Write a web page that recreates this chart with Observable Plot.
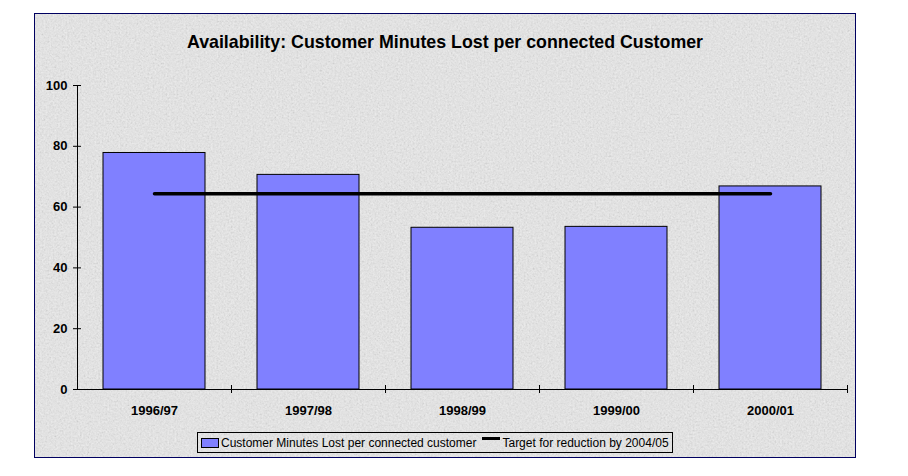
<!DOCTYPE html>
<html>
<head>
<meta charset="utf-8">
<script src="https://cdn.jsdelivr.net/npm/d3@7"></script>
<script src="https://cdn.jsdelivr.net/npm/@observablehq/plot@0.6"></script>
<style>
  html, body { margin: 0; padding: 0; background: #fff; }
  #wrap { position: relative; width: 908px; height: 476px; overflow: hidden; font-family: "Liberation Sans", Arial, sans-serif; }
  #panel { position: absolute; left: 34px; top: 13px; width: 820px; height: 443px; border: 1px solid #000060; background: #e4e4e4; overflow: hidden; }
  #panel svg.tex { position: absolute; left: 0; top: 0; }
  #title { position: absolute; left: 0; width: 890px; top: 32px; text-align: center; font-size: 17.8px; font-weight: bold; color: #000; }
  #chart { position: absolute; left: 0; top: 0; }
  #legend { position: absolute; left: 197px; top: 432px; height: 19px; border: 1px solid #000; display: flex; align-items: center; font-size: 12px; padding: 0 3px 0 3px; white-space: nowrap; color: #000; }
  .sw { display: inline-block; width: 16px; height: 8px; background: #8080ff; border: 1px solid #000; margin-right: 2px; }
  .ln { display: inline-block; width: 18px; height: 3px; background: #000; margin: 0 2px 0 6px; position: relative; top: -4px; }
</style>
</head>
<body>
<div id="wrap">
  <div id="panel">
    <svg class="tex" width="820" height="443">
      <filter id="noise" x="0" y="0" width="100%" height="100%">
        <feTurbulence type="fractalNoise" baseFrequency="0.55" numOctaves="4" seed="7" result="t"/>
        <feColorMatrix in="t" type="matrix" values="0.6 0.6 0 0 -0.1  0.6 0.6 0 0 -0.1  0.6 0.6 0 0 -0.1  0 0 0 0 0.22"/>
      </filter>
      <rect width="820" height="443" fill="#ececec"/>
      <rect width="820" height="443" filter="url(#noise)"/>
    </svg>
  </div>
  <div id="title">Availability: Customer Minutes Lost per connected Customer</div>
  <div id="chart"></div>
  <div id="legend"><span class="sw"></span>Customer Minutes Lost per connected customer<span class="ln"></span>Target for reduction by 2004/05</div>
</div>
<script>
const categories = ["1996/97", "1997/98", "1998/99", "1999/00", "2000/01"];
const minutesLost = [77.8, 70.6, 53.2, 53.5, 66.8];
const target = 64.4;
const yTicks = [0, 20, 40, 60, 80, 100];
const seriesNames = ["Customer Minutes Lost per connected customer", "Target for reduction by 2004/05"];

const bars = categories.map((c, i) => ({category: c, value: minutesLost[i]}));
const targetLine = categories.map(c => ({category: c, value: target}));

const W = 908, H = 476;
const mL = 77, mR = 61, mT = 85, mB = 87;
const step = (W - mL - mR) / categories.length;

const chart = Plot.plot({
  width: W,
  height: H,
  marginLeft: mL,
  marginRight: mR,
  marginTop: mT,
  marginBottom: mB,
  style: {background: "transparent", fontFamily: "'Liberation Sans', Arial, sans-serif", fontSize: "13px", color: "#000", overflow: "visible"},
  x: {domain: categories, paddingInner: 0.338, paddingOuter: 0.169, label: null},
  y: {domain: [0, 100], label: null},
  marks: [
    Plot.barY(bars, {x: "category", y: "value", fill: "#8080ff", stroke: "#000", strokeWidth: 1}),
    Plot.lineY(targetLine, {x: "category", y: "value", stroke: "#000", strokeWidth: 3.5}),
    Plot.frame({anchor: "left", stroke: "#000"}),
    Plot.frame({anchor: "bottom", stroke: "#000"}),
    Plot.axisY({ticks: yTicks, tickSize: 8, dx: 4, tickPadding: 6, fontWeight: "bold", fontSize: 13, stroke: "#000", fill: "#000", label: null}),
    Plot.axisX({tickSize: 8, dx: step / 2, dy: -4, tickFormat: () => "", stroke: "#000", label: null}),
    Plot.axisX({tickSize: 0, tickPadding: 16, fontWeight: "bold", fontSize: 13, fill: "#000", label: null})
  ]
});
document.getElementById("chart").appendChild(chart);
</script>
</body>
</html>
